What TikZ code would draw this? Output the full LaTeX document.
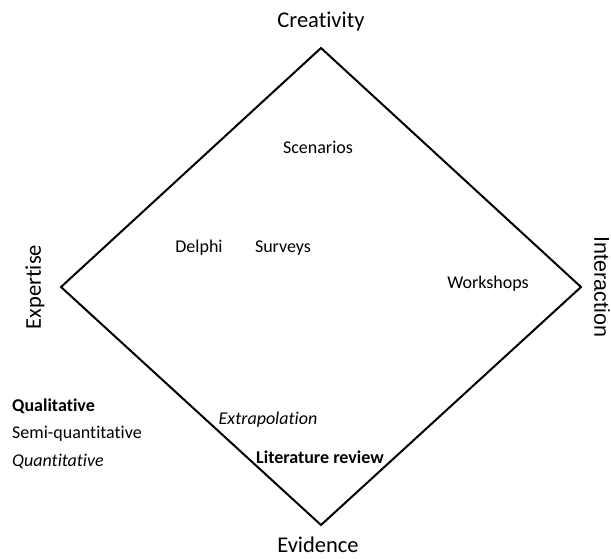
\documentclass[tikz,border=0pt]{standalone}
\usepackage{fontspec}
\setmainfont[Ligatures=NoCommon]{Carlito}
\newfontfamily\arialfont{Liberation Sans}
\begin{document}
\begin{tikzpicture}[x=1pt,y=-1pt,
  corner/.style={font=\fontsize{22.5}{24}\selectfont, inner sep=0pt},
  lbl/.style={font=\fontsize{18}{20}\selectfont, inner sep=0pt},
  side/.style={font=\fontsize{18}{20}\selectfont, inner sep=0pt, anchor=west}]
\useasboundingbox (0,0) rectangle (611,558);
\coordinate (T) at (321,48);
\coordinate (R) at (581,287);
\coordinate (B) at (321,525);
\coordinate (L) at (61,287);
\draw[line width=2pt, line join=miter] (T) -- (R) -- (B) -- (L) -- cycle;
\node[corner] (cre) at (321,22) {Creativity};
\node[corner] (evi) at (318,545) {Evidence};
\node[corner, rotate=90] (exp) at (35,287) {Expertise};
\node[corner, rotate=-90, font=\arialfont\fontsize{21.5}{24}\selectfont] (int) at (602,287) {Interaction};
\node[lbl] (sce) at (318,147) {Scenarios};
\node[lbl] (del) at (199,248) {Delphi};
\node[lbl] (sur) at (283,248) {Surveys};
\node[lbl] (wor) at (488,284) {Workshops};
\node[lbl, font=\fontsize{18}{20}\selectfont\itshape] (ext) at (268,420) {Extrapolation};
\node[lbl, font=\fontsize{18}{20}\selectfont\bfseries] (lit) at (320,457) {Literature review};
\node[side, font=\fontsize{18}{20}\selectfont\bfseries] (qual) at (12,406) {Qualitative};
\node[side] (semi) at (12,434) {Semi-quantitative};
\node[side, font=\fontsize{18}{20}\selectfont\itshape] (quan) at (12,461) {Quantitative};
\end{tikzpicture}
\end{document}
